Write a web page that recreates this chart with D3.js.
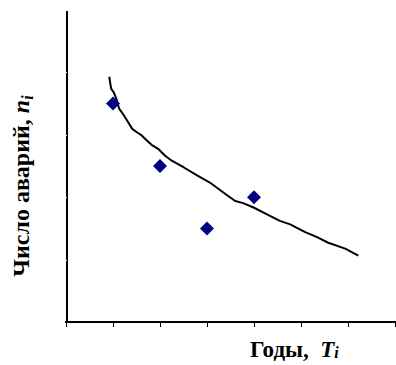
<!DOCTYPE html>
<html>
<head>
<meta charset="utf-8">
<script src="https://cdn.jsdelivr.net/npm/d3@7"></script>
<style>
  body { margin: 0; background: #fff; }
  svg { display: block; }
</style>
</head>
<body>
<div id="chart"></div>
<script>
// observed points (year index, number of accidents)
const years = [1, 2, 3, 4];
const accidents = [7, 5, 3, 4];

// trend curve as drawn (slightly jagged)
const trendX = [0.92, 0.96, 1.02, 1.08, 1.13, 1.22, 1.30, 1.41, 1.50, 1.61, 1.72, 1.82, 1.96, 2.11, 2.25, 2.50, 2.78, 3.06, 3.45, 3.60, 3.77, 3.99, 4.34, 4.55, 4.77, 5.09, 5.33, 5.58, 5.94, 6.22];
const trendY = [7.86, 7.48, 7.35, 7.11, 6.84, 6.65, 6.46, 6.19, 6.09, 5.98, 5.82, 5.68, 5.55, 5.33, 5.17, 4.96, 4.71, 4.47, 4.04, 3.88, 3.81, 3.67, 3.40, 3.24, 3.13, 2.88, 2.73, 2.54, 2.35, 2.13];

const xTicks = [0, 1, 2, 3, 4, 5, 6, 7];
const yTicks = [2, 4, 6, 8];

const width = 396, height = 365;
const x = d3.scaleLinear().domain([0, 7]).range([66, 395]);
const y = d3.scaleLinear().domain([0, 10]).range([322, 10]);

const svg = d3.select('#chart').append('svg')
  .attr('width', width)
  .attr('height', height);

// x axis
const xAxis = svg.append('g')
  .attr('transform', `translate(0,${y(0)})`)
  .call(d3.axisBottom(x).tickValues(xTicks).tickSize(5).tickSizeOuter(0).tickFormat(''));
xAxis.select('.domain').attr('stroke', '#000').attr('stroke-width', 2).attr('shape-rendering', 'crispEdges')
  .attr('d', `M${x(0) - 1},0H${width}`);
xAxis.selectAll('.tick line').attr('stroke', '#000').attr('stroke-width', 1.5).attr('shape-rendering', 'crispEdges');

// y axis (ticks barely visible as light notches)
const yAxis = svg.append('g')
  .attr('transform', `translate(${x(0)},0)`)
  .call(d3.axisLeft(y).tickValues(yTicks).tickSize(0).tickSizeOuter(0).tickFormat(''));
yAxis.select('.domain').attr('stroke', '#000').attr('stroke-width', 2).attr('shape-rendering', 'crispEdges');
yAxis.selectAll('.tick').append('line')
  .attr('x1', -1).attr('x2', 1)
  .attr('stroke', '#ddd').attr('stroke-width', 1).attr('shape-rendering', 'crispEdges');

// trend line
const line = d3.line()
  .x(d => x(d[0]))
  .y(d => y(d[1]));

svg.append('path')
  .datum(d3.zip(trendX, trendY))
  .attr('fill', 'none')
  .attr('stroke', '#000')
  .attr('stroke-width', 2)
  .attr('stroke-linejoin', 'round')
  .attr('d', line);

// diamond markers
svg.selectAll('.pt')
  .data(d3.zip(years, accidents))
  .enter().append('path')
  .attr('class', 'pt')
  .attr('transform', d => `translate(${x(d[0])},${y(d[1])})`)
  .attr('d', 'M0,-7L7,0L0,7L-7,0Z')
  .attr('fill', '#000080');

// labels
const yLabel = svg.append('text')
  .attr('transform', 'translate(29,186) rotate(-90)')
  .attr('text-anchor', 'middle')
  .style('font-family', '"Liberation Serif", "Times New Roman", serif')
  .style('font-size', '24px')
  .style('font-weight', 'bold');
yLabel.append('tspan').text('Число аварий, ');
yLabel.append('tspan').style('font-style', 'italic').text('n');
yLabel.append('tspan').style('font-style', 'italic').style('font-size', '16px').attr('dy', 4).text('i');

const xLabel = svg.append('text')
  .attr('x', 250)
  .attr('y', 357)
  .style('font-family', '"Liberation Serif", "Times New Roman", serif')
  .style('font-size', '23px')
  .style('font-weight', 'bold');
xLabel.append('tspan').text('Годы,\u00a0\u00a0');
xLabel.append('tspan').style('font-style', 'italic').text('T');
xLabel.append('tspan').style('font-style', 'italic').style('font-size', '16px').attr('dy', 1).text('i');
</script>
</body>
</html>
